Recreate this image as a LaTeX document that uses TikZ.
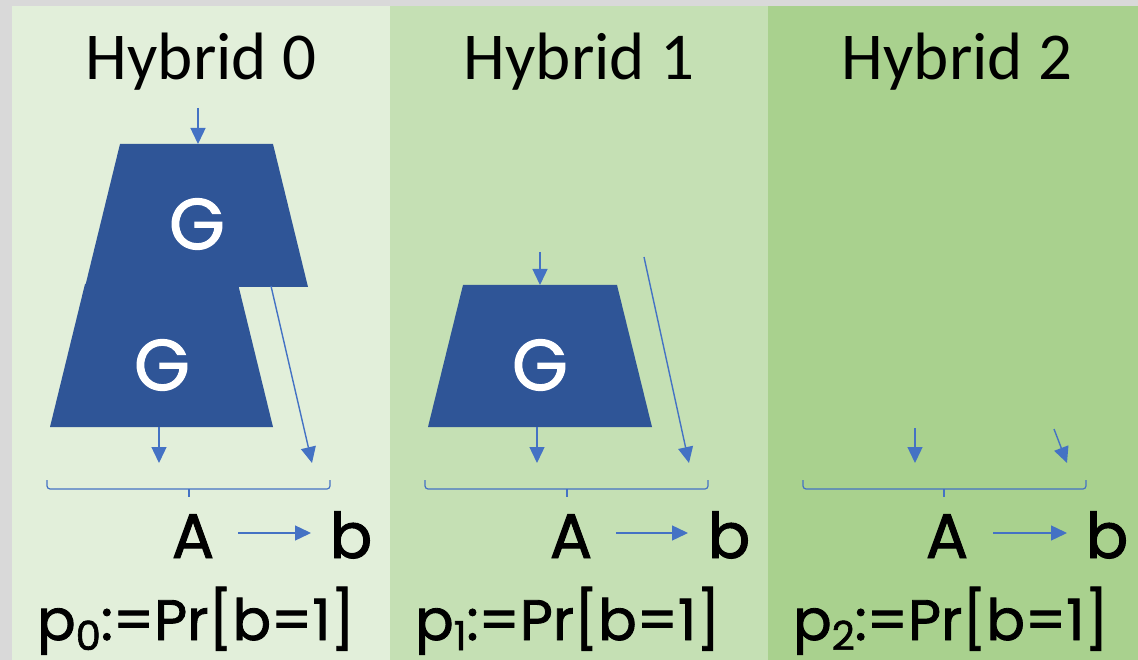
\documentclass[tikz,border=0pt]{standalone}
\usepackage{fontspec}
\setmainfont{Carlito}
\newfontfamily\comicf[FakeBold=1.5]{Poppins}
\usetikzlibrary{arrows.meta}
\definecolor{bggray}{HTML}{D9D9D9}
\definecolor{pone}{HTML}{E2EFDA}
\definecolor{ptwo}{HTML}{C5E0B4}
\definecolor{pthree}{HTML}{A9D18E}
\definecolor{gblue}{HTML}{2F5597}
\definecolor{ablue}{HTML}{4472C4}
\tikzset{
  title/.style={font=\fontsize{67}{67}\selectfont, anchor=base, inner sep=0pt},
  comic/.style={font=\comicf\fontsize{63}{63}\selectfont, anchor=base, inner sep=0pt},
  ptext/.style={font=\comicf\fontsize{57}{57}\selectfont, anchor=base west, inner sep=0pt},
  gtext/.style={font=\comicf\fontsize{72}{72}\selectfont, text=white, inner sep=0pt},
  gbox/.style={fill=gblue, draw=none},
  arr/.style={draw=ablue, line width=1.4pt, -{Triangle[length=16pt,width=15pt]}},
  brace/.style={draw=ablue, line width=1.2pt, rounded corners=3pt},
}
\newcommand{\subz}[1]{\raisebox{-10pt}{\fontsize{40}{40}\selectfont #1}}
\begin{document}
\begin{tikzpicture}[x=1pt,y=-1pt]
\fill[bggray] (0,0) rectangle (1138,660);
\useasboundingbox (0,0) rectangle (1138,660);
\fill[pone] (12,6) rectangle (390,660);
\fill[ptwo] (390,6) rectangle (768,660);
\fill[pthree] (768,6) rectangle (1138,660);

% titles
\node[title] (h0) at (201,80) {Hybrid 0};
\node[title] (h1) at (579,80) {Hybrid 1};
\node[title] (h2) at (957,80) {Hybrid 2};

% ---------- Hybrid 0 ----------
\fill[gbox] (85,284) -- (238,284) -- (273,427) -- (50,427) -- cycle;
\fill[gbox] (120,144) -- (273,144) -- (308,287) -- (85,287) -- cycle;
\node[gtext] (g0a) at (197,224) {G};
\node[gtext] (g0b) at (162,365) {G};
\coordinate (in0s) at (198,108);
\coordinate (in0e) at (198,144);
\coordinate (out0s) at (159,427);
\coordinate (out0e) at (159,463);
\coordinate (d0s) at (271,286);
\coordinate (d0e) at (312,463);
\draw[arr] (in0s) -- (in0e);
\draw[arr] (out0s) -- (out0e);
\draw[arr] (d0s) -- (d0e);
\coordinate (br0l) at (47,480);
\coordinate (br0m) at (189,489);
\coordinate (br0r) at (330,480);
\coordinate (br0t) at (189,497);
\draw[brace] (br0l) |- (br0m) -| (br0r);
\draw[draw=ablue, line width=1.2pt] (br0m) -- (br0t);
\node[comic] (A0) at (193,558) {A};
\node[comic] (b0) at (351,558) {b};
\coordinate (ab0s) at (238,533);
\coordinate (ab0e) at (311,533);
\draw[arr] (ab0s) -- (ab0e);
\node[ptext] (p0) at (37,640) {p\subz{0}:=Pr[b=1]};

% ---------- Hybrid 1 ----------
\fill[gbox] (463,285) -- (617,285) -- (652,427) -- (428,427) -- cycle;
\node[gtext] (g1) at (540,365) {G};
\coordinate (in1s) at (540,252);
\coordinate (in1e) at (540,285);
\coordinate (out1s) at (537,427);
\coordinate (out1e) at (537,463);
\coordinate (d1s) at (644,257);
\coordinate (d1e) at (689,463);
\draw[arr] (in1s) -- (in1e);
\draw[arr] (out1s) -- (out1e);
\draw[arr] (d1s) -- (d1e);
\coordinate (br1l) at (425,480);
\coordinate (br1m) at (567,489);
\coordinate (br1r) at (708,480);
\coordinate (br1t) at (567,497);
\draw[brace] (br1l) |- (br1m) -| (br1r);
\draw[draw=ablue, line width=1.2pt] (br1m) -- (br1t);
\node[comic] (A1) at (571,558) {A};
\node[comic] (b1) at (729,558) {b};
\coordinate (ab1s) at (616,533);
\coordinate (ab1e) at (688,533);
\draw[arr] (ab1s) -- (ab1e);
\node[ptext] (p1) at (415,640) {p\subz{1}:=Pr[b=1]};

% ---------- Hybrid 2 ----------
\coordinate (out2s) at (915,428);
\coordinate (out2e) at (915,463);
\coordinate (d2s) at (1054,429);
\coordinate (d2e) at (1067,463);
\draw[arr] (out2s) -- (out2e);
\draw[arr] (d2s) -- (d2e);
\coordinate (br2l) at (803,480);
\coordinate (br2m) at (944,489);
\coordinate (br2r) at (1086,480);
\coordinate (br2t) at (944,497);
\draw[brace] (br2l) |- (br2m) -| (br2r);
\draw[draw=ablue, line width=1.2pt] (br2m) -- (br2t);
\node[comic] (A2) at (947,558) {A};
\node[comic] (b2) at (1107,558) {b};
\coordinate (ab2s) at (993,533);
\coordinate (ab2e) at (1067,533);
\draw[arr] (ab2s) -- (ab2e);
\node[ptext] (p2) at (793,640) {p\subz{2}:=Pr[b=1]};
\end{tikzpicture}
\end{document}
